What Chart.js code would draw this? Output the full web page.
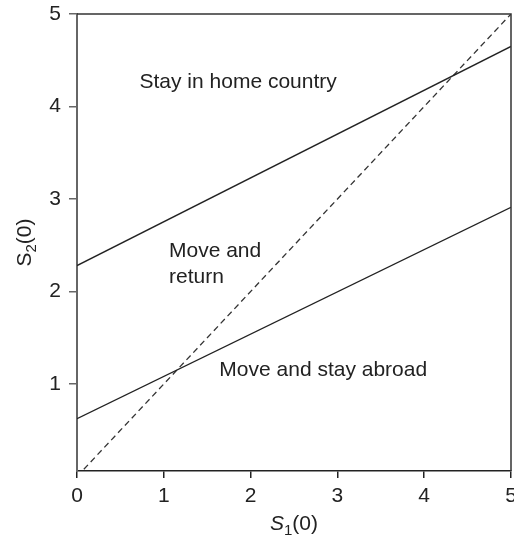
<!DOCTYPE html>
<html>
<head>
<meta charset="utf-8">
<script src="https://cdn.jsdelivr.net/npm/chart.js@4.4.1/dist/chart.umd.min.js"></script>
<style>
    html, body { margin: 0; padding: 0; background: #fff; }
    canvas { display: block; }
</style>
</head>
<body>
<canvas id="myChart" width="514" height="540"></canvas>
<script>
// boundary lines (value of S2(0) at S1(0) = 0 and 5)
const xEnds = [0, 5];
const upperBoundary = [2.28, 4.65];
const lowerBoundary = [0.625, 2.91];
const diagonal = [0, 5];

const xTicks = [0, 1, 2, 3, 4, 5];
const yTicks = [1, 2, 3, 4, 5];

const regionLabels = ["Stay in home country", "Move and", "return", "Move and stay abroad"];

const FONT = "'Liberation Sans', Arial, sans-serif";
const INK = "#222";

function toPoints(ys) {
    return xEnds.map((x, i) => ({x: x, y: ys[i]}));
}

// text in the regions + box + axis titles
const decor = {
    id: "decor",
    afterDraw(chart) {
        const ctx = chart.ctx;
        const xs = chart.scales.x;
        const ys = chart.scales.y;
        const a = chart.chartArea;

        ctx.save();
        // top and right frame
        ctx.strokeStyle = "#333";
        ctx.lineWidth = 1.5;
        ctx.beginPath();
        ctx.moveTo(a.left, a.top);
        ctx.lineTo(a.right, a.top);
        ctx.lineTo(a.right, a.bottom);
        ctx.stroke();

        ctx.fillStyle = INK;
        ctx.font = "21px " + FONT;
        ctx.textAlign = "left";
        ctx.textBaseline = "middle";
        const spots = [[0.72, 4.26], [1.06, 2.44], [1.06, 2.16], [1.64, 1.15]];
        regionLabels.forEach((t, i) => {
            ctx.fillText(t, xs.getPixelForValue(spots[i][0]), ys.getPixelForValue(spots[i][1]));
        });

        // axis titles with subscripts
        function subTitle(x, y, italic, sub) {
            ctx.textBaseline = "alphabetic";
            ctx.font = (italic ? "italic " : "") + "21px " + FONT;
            const w1 = ctx.measureText("S").width;
            ctx.font = "15px " + FONT;
            const w2 = ctx.measureText(sub).width;
            ctx.font = "21px " + FONT;
            const w3 = ctx.measureText("(0)").width;
            let cx = x - (w1 + w2 + w3) / 2;
            ctx.font = (italic ? "italic " : "") + "21px " + FONT;
            ctx.fillText("S", cx, y);
            cx += w1;
            ctx.font = "15px " + FONT;
            ctx.fillText(sub, cx, y + 5);
            cx += w2;
            ctx.font = "21px " + FONT;
            ctx.fillText("(0)", cx, y);
        }
        ctx.textAlign = "left";
        subTitle((a.left + a.right) / 2, 530, true, "1");

        ctx.translate(31, (a.top + a.bottom) / 2);
        ctx.rotate(-Math.PI / 2);
        subTitle(0, 0, false, "2");
        ctx.restore();
    }
};

const ctx = document.getElementById("myChart").getContext("2d");

const myChart = new Chart(ctx, {
    type: "scatter",
    data: {
        datasets: [
            {
                label: "upper",
                data: toPoints(upperBoundary),
                showLine: true,
                borderColor: INK,
                borderWidth: 1.4,
                pointRadius: 0
            },
            {
                label: "lower",
                data: toPoints(lowerBoundary),
                showLine: true,
                borderColor: INK,
                borderWidth: 1.4,
                pointRadius: 0
            },
            {
                label: "diagonal",
                data: toPoints(diagonal),
                showLine: true,
                borderColor: "#333",
                borderWidth: 1.3,
                borderDash: [6, 4],
                pointRadius: 0
            }
        ]
    },
    options: {
        responsive: false,
        animation: false,
        layout: {
            padding: {top: 14, right: 3, left: 0, bottom: 0}
        },
        plugins: {
            legend: {display: false},
            tooltip: {enabled: false}
        },
        scales: {
            x: {
                type: "linear",
                min: 0,
                max: 5,
                afterBuildTicks: (scale) => { scale.ticks = xTicks.map(v => ({value: v})); },
                afterFit: (scale) => {
                    scale.height = 69;
                    scale.paddingLeft = 0;
                    scale.paddingRight = 0;
                },
                grid: {
                    drawOnChartArea: false,
                    drawTicks: true,
                    tickLength: 7,
                    color: INK,
                    lineWidth: 1.5
                },
                border: {color: INK, width: 1.5},
                ticks: {
                    color: INK,
                    font: {family: FONT, size: 21},
                    padding: 6,
                    maxRotation: 0
                }
            },
            y: {
                type: "linear",
                min: 0.06,
                max: 5,
                afterBuildTicks: (scale) => { scale.ticks = yTicks.map(v => ({value: v})); },
                afterFit: (scale) => {
                    scale.width = 77;
                    scale.paddingTop = 0;
                    scale.paddingBottom = 0;
                },
                grid: {
                    drawOnChartArea: false,
                    drawTicks: true,
                    tickLength: 8,
                    color: "#666",
                    lineWidth: 1.5
                },
                border: {color: "#666", width: 2},
                ticks: {
                    color: INK,
                    font: {family: FONT, size: 21},
                    padding: 8
                }
            }
        }
    },
    plugins: [decor]
});
</script>
</body>
</html>
